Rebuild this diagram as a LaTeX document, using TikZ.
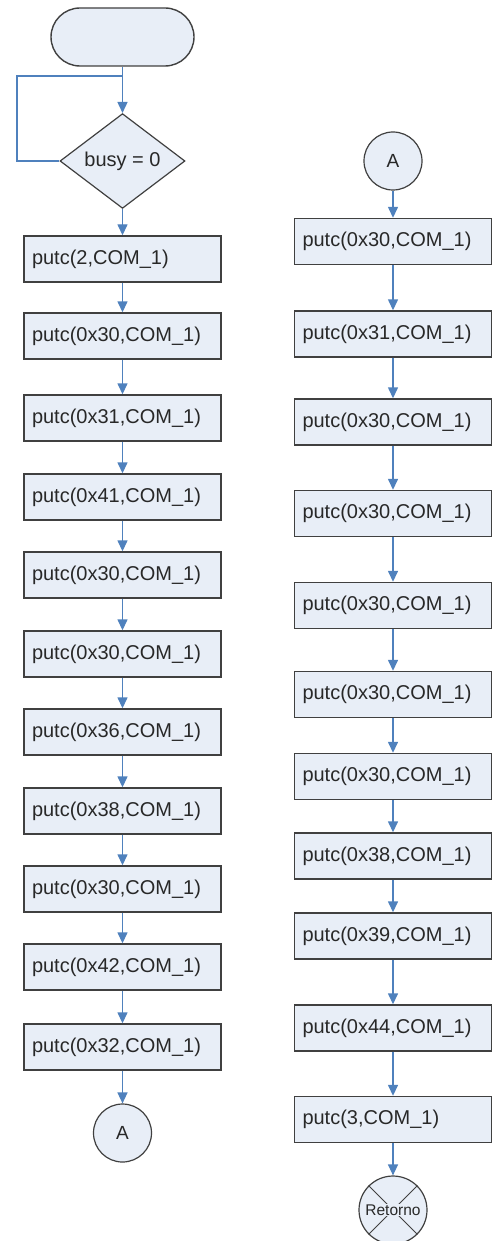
\documentclass[tikz,border=0pt]{standalone}
\usepackage{fontspec}
\setmainfont{Liberation Sans}
\usetikzlibrary{shapes.geometric,arrows.meta}
\definecolor{boxfill}{RGB}{232,238,247}
\definecolor{boxline}{RGB}{64,64,64}
\definecolor{flow}{RGB}{79,129,189}
\definecolor{txt}{RGB}{40,40,40}
\begin{document}
\begin{tikzpicture}[x=1pt,y=-1pt,
  proc/.style={draw=boxline, line width=1.4pt, fill=boxfill, text=txt,
    minimum height=46pt, text width=181pt, inner xsep=8pt, inner ysep=0pt,
    align=left, font=\fontsize{20}{24}\selectfont},
  conn/.style={draw=boxline, line width=1.2pt, fill=boxfill, text=txt,
    circle, minimum size=58pt, inner sep=0pt, font=\fontsize{19}{22}\selectfont},
  flowline/.style={draw=flow, line width=1.4pt},
  flowarrow/.style={flowline, -{Triangle[length=11pt,width=10pt]}}]
\useasboundingbox (0,0) rectangle (494,1241);

% left column
\node[draw=boxline, line width=1.4pt, fill=boxfill, rounded corners=29pt,
  minimum width=143pt, minimum height=58pt] (start) at (122.5,37) {};
\node[diamond, draw=boxline, line width=1.2pt, fill=boxfill, text=txt,
  minimum width=125pt, minimum height=84pt, inner sep=0pt,
  font=\fontsize{20}{24}\selectfont] (dec) at (122.5,161) {busy = 0};
\coordinate (join) at (122.5,76);
\coordinate (loopc) at (17,76);

\node[proc] (l1) at (122.5,259) {putc(2,COM\_1)};
\node[proc] (l2) at (122.5,336) {putc(0x30,COM\_1)};
\node[proc] (l3) at (122.5,418) {putc(0x31,COM\_1)};
\node[proc] (l4) at (122.5,497) {putc(0x41,COM\_1)};
\node[proc] (l5) at (122.5,575) {putc(0x30,COM\_1)};
\node[proc] (l6) at (122.5,654) {putc(0x30,COM\_1)};
\node[proc] (l7) at (122.5,732) {putc(0x36,COM\_1)};
\node[proc] (l8) at (122.5,811) {putc(0x38,COM\_1)};
\node[proc] (l9) at (122.5,889) {putc(0x30,COM\_1)};
\node[proc] (l10) at (122.5,967) {putc(0x42,COM\_1)};
\node[proc] (l11) at (122.5,1047) {putc(0x32,COM\_1)};
\node[conn] (ca) at (122.5,1133) {A};

\draw[flowarrow] (start) -- (dec);
\draw[flowline] (dec.west) -| (loopc) -- (join);
\draw[flowarrow] (dec) -- (l1);
\foreach \a/\b in {l1/l2,l2/l3,l3/l4,l4/l5,l5/l6,l6/l7,l7/l8,l8/l9,l9/l10,l10/l11,l11/ca}
  \draw[flowarrow] (\a) -- (\b);

% right column
\node[conn] (cb) at (393,161) {A};
\node[proc] (r1) at (393,241.5) {putc(0x30,COM\_1)};
\node[proc] (r2) at (393,334) {putc(0x31,COM\_1)};
\node[proc] (r3) at (393,422) {putc(0x30,COM\_1)};
\node[proc] (r4) at (393,513.5) {putc(0x30,COM\_1)};
\node[proc] (r5) at (393,605.5) {putc(0x30,COM\_1)};
\node[proc] (r6) at (393,694.5) {putc(0x30,COM\_1)};
\node[proc] (r7) at (393,776.5) {putc(0x30,COM\_1)};
\node[proc] (r8) at (393,856) {putc(0x38,COM\_1)};
\node[proc] (r9) at (393,936) {putc(0x39,COM\_1)};
\node[proc] (r10) at (393,1028) {putc(0x44,COM\_1)};
\node[proc] (r11) at (393,1119.5) {putc(3,COM\_1)};
\node[draw=boxline, line width=1.2pt, fill=boxfill, circle, minimum size=68pt,
  inner sep=0pt] (ret) at (393,1210) {};
\draw[boxline, line width=1pt] (ret.north west) -- (ret.south east);
\draw[boxline, line width=1pt] (ret.north east) -- (ret.south west);
\node[fill=boxfill, text=txt, inner sep=1pt, font=\fontsize{15.5}{18}\selectfont]
  (rettxt) at (ret.center) {Retorno};

\foreach \a/\b in {cb/r1,r1/r2,r2/r3,r3/r4,r4/r5,r5/r6,r6/r7,r7/r8,r8/r9,r9/r10,r10/r11,r11/ret}
  \draw[flowarrow] (\a) -- (\b);
\end{tikzpicture}
\end{document}
